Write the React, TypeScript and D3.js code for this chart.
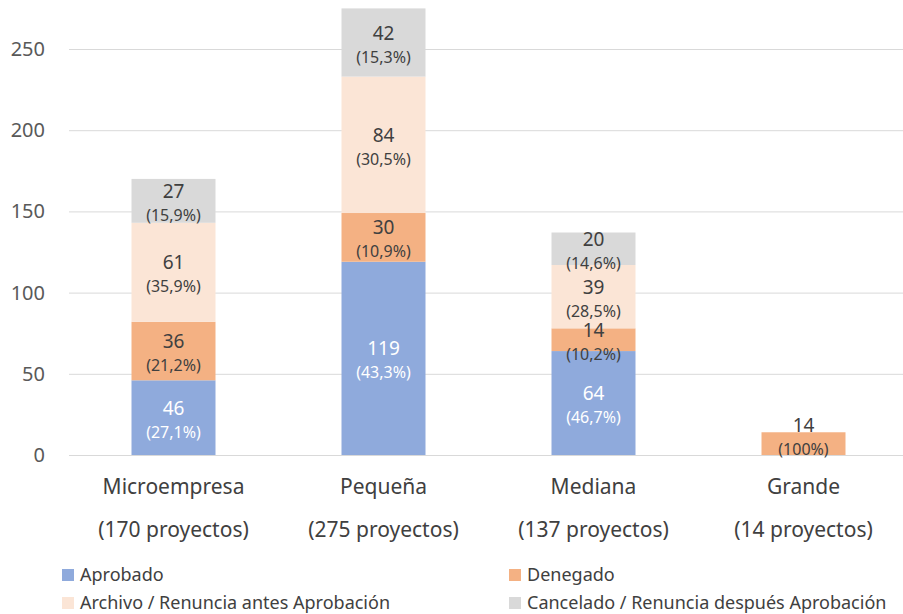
import React, { useRef, useEffect } from "react";
import * as d3 from "d3";

const categories = ["Microempresa", "Pequeña", "Mediana", "Grande"];
const projectLabels = ["(170 proyectos)", "(275 proyectos)", "(137 proyectos)", "(14 proyectos)"];

const seriesNames = [
  "Aprobado",
  "Denegado",
  "Archivo / Renuncia antes Aprobación",
  "Cancelado / Renuncia después Aprobación",
];
const aprobado = [46, 119, 64, 0];
const denegado = [36, 30, 14, 14];
const archivo = [61, 84, 39, 0];
const cancelado = [27, 42, 20, 0];

const aprobadoPct = ["27,1%", "43,3%", "46,7%", ""];
const denegadoPct = ["21,2%", "10,9%", "10,2%", "100%"];
const archivoPct = ["35,9%", "30,5%", "28,5%", ""];
const canceladoPct = ["15,9%", "15,3%", "14,6%", ""];

const yTicks = [0, 50, 100, 150, 200, 250];
const colors = ["#8FAADC", "#F4B183", "#FBE5D6", "#D9D9D9"];
const labelColors = ["#ffffff", "#404040", "#404040", "#404040"];

const W = 903;
const H = 614;
const FONT = "'Noto Sans', sans-serif";

export default function App() {
  const svgRef = useRef<SVGSVGElement>(null);

  useEffect(() => {
    const svg = d3.select(svgRef.current);
    svg.selectAll("*").remove();

    const rows = categories.map((c, i) => ({
      cat: c,
      s0: aprobado[i],
      s1: denegado[i],
      s2: archivo[i],
      s3: cancelado[i],
    }));
    const pcts = [aprobadoPct, denegadoPct, archivoPct, canceladoPct];

    const stack = d3.stack<any>().keys(["s0", "s1", "s2", "s3"]);
    const series = stack(rows);

    const x = d3
      .scaleBand()
      .domain(categories)
      .range([68.5, 908.5])
      .paddingInner(0.6)
      .paddingOuter(0.3);

    const y = d3.scaleLinear().domain([0, 250]).range([455, 49]);

    // gridlines + y labels
    svg
      .append("g")
      .selectAll("line")
      .data(yTicks)
      .enter()
      .append("line")
      .attr("x1", 69)
      .attr("x2", W)
      .attr("y1", (d) => y(d) + 0.5)
      .attr("y2", (d) => y(d) + 0.5)
      .attr("stroke", "#d9d9d9")
      .attr("stroke-width", 1);

    svg
      .append("g")
      .selectAll("text")
      .data(yTicks)
      .enter()
      .append("text")
      .attr("x", 45)
      .attr("y", (d) => y(d) + 7)
      .attr("text-anchor", "end")
      .attr("font-family", FONT)
      .attr("font-size", 20)
      .attr("fill", "#595959")
      .text((d) => d);

    // bars
    series.forEach((s, si) => {
      svg
        .append("g")
        .selectAll("rect")
        .data(s)
        .enter()
        .filter((d) => d[1] - d[0] > 0)
        .append("rect")
        .attr("x", (d) => x(d.data.cat)!)
        .attr("width", x.bandwidth())
        .attr("y", (d) => y(d[1]))
        .attr("height", (d) => y(d[0]) - y(d[1]))
        .attr("fill", colors[si]);
    });

    // data labels
    series.forEach((s, si) => {
      s.forEach((d, ci) => {
        const v = d[1] - d[0];
        if (v <= 0) return;
        const cx = x(d.data.cat)! + x.bandwidth() / 2;
        let c = (y(d[0]) + y(d[1])) / 2;
        // keep label block inside plot area (like excel does)
        c = Math.min(c, y(0) - 20);
        svg
          .append("text")
          .attr("x", cx)
          .attr("y", c - 3)
          .attr("text-anchor", "middle")
          .attr("font-family", FONT)
          .attr("font-size", 19)
          .attr("fill", labelColors[si])
          .text(v);
        svg
          .append("text")
          .attr("x", cx)
          .attr("y", c + 20)
          .attr("text-anchor", "middle")
          .attr("font-family", FONT)
          .attr("font-size", 16)
          .attr("fill", labelColors[si])
          .text(`(${pcts[si][ci]})`);
      });
    });

    // category labels
    const cg = svg.append("g");
    categories.forEach((c, i) => {
      const cx = x(c)! + x.bandwidth() / 2;
      cg.append("text")
        .attr("x", cx)
        .attr("y", 494)
        .attr("text-anchor", "middle")
        .attr("font-family", FONT)
        .attr("font-size", 21)
        .attr("fill", "#404040")
        .text(c);
      cg.append("text")
        .attr("x", cx)
        .attr("y", 537)
        .attr("text-anchor", "middle")
        .attr("font-family", FONT)
        .attr("font-size", 21)
        .attr("fill", "#404040")
        .text(projectLabels[i]);
    });

    // legend
    const legendPos = [
      [62, 575],
      [509, 575],
      [62, 603],
      [509, 603],
    ];
    seriesNames.forEach((n, i) => {
      const [lx, ly] = legendPos[i];
      svg
        .append("rect")
        .attr("x", lx)
        .attr("y", ly - 6)
        .attr("width", 12)
        .attr("height", 12)
        .attr("fill", colors[i]);
      svg
        .append("text")
        .attr("x", lx + 18)
        .attr("y", ly + 6)
        .attr("font-family", FONT)
        .attr("font-size", 18)
        .attr("fill", "#404040")
        .text(n);
    });
  }, []);

  return (
    <svg
      ref={svgRef}
      width={W}
      height={H}
      style={{ position: "absolute", left: 0, top: 0, background: "#fff" }}
    />
  );
}
